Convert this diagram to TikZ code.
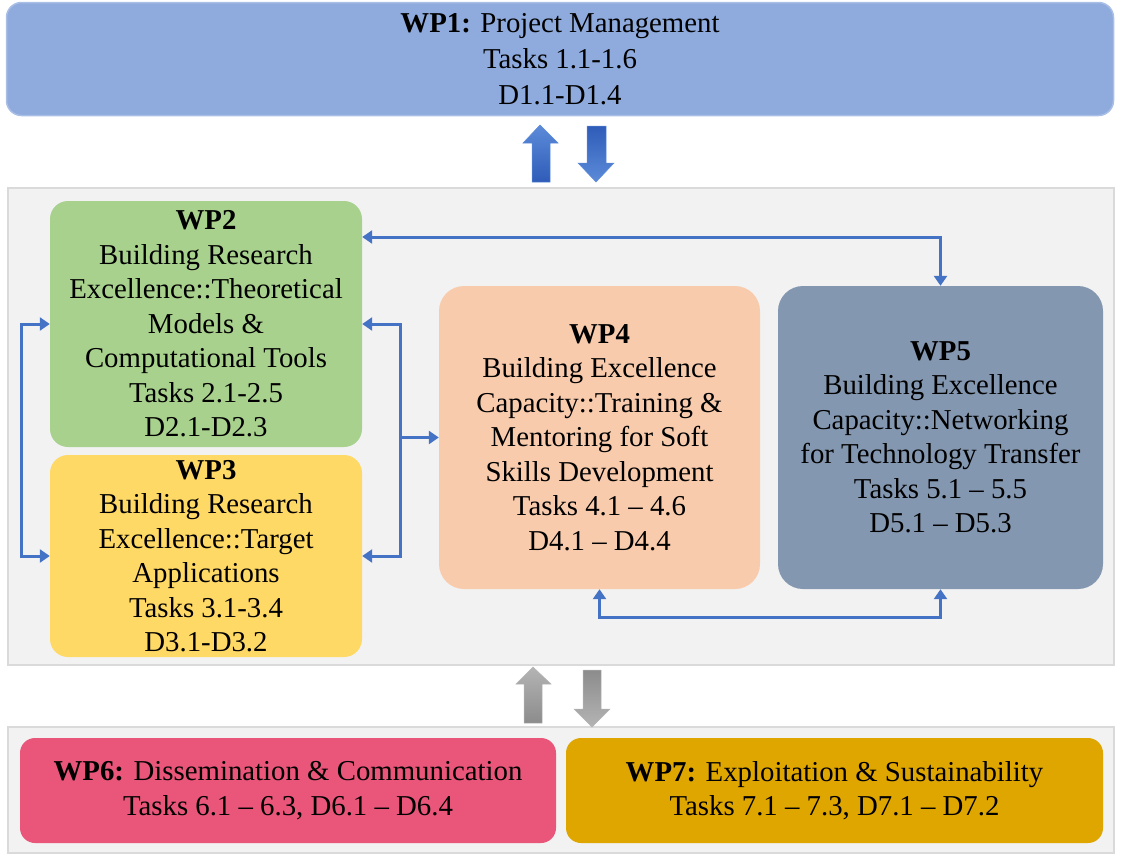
\documentclass[tikz,border=0pt]{standalone}
\usepackage{fontspec}
\setmainfont{Liberation Serif}
\usetikzlibrary{arrows.meta,calc}
\definecolor{wponefill}{HTML}{8FAADC}
\definecolor{wponeline}{HTML}{A9BFE6}
\definecolor{wptwofill}{HTML}{A9D18E}
\definecolor{wpthreefill}{HTML}{FFD966}
\definecolor{wpfourfill}{HTML}{F8CBAD}
\definecolor{wpfivefill}{HTML}{8497B0}
\definecolor{wpsixfill}{HTML}{E95679}
\definecolor{wpsevenfill}{HTML}{DFA600}
\definecolor{panelfill}{HTML}{F2F2F2}
\definecolor{panelline}{HTML}{DADADA}
\definecolor{linkblue}{HTML}{4472C4}
\definecolor{blocklight}{HTML}{5D8BD9}
\definecolor{blockdark}{HTML}{2E5CB8}
\definecolor{greylight}{HTML}{B4B4B4}
\definecolor{greydark}{HTML}{8C8C8C}

\begin{document}
\begin{tikzpicture}[x=1pt,y=-1pt,
    wpbox/.style={rectangle, align=center, inner sep=0pt,
      font=\fontsize{28.8}{34.5}\selectfont},
    panel/.style={rectangle, fill=panelfill, draw=panelline, line width=2pt, inner sep=0pt},
    link/.style={draw=linkblue, line width=3pt,
      {Triangle[length=10pt,width=13pt]}-{Triangle[length=10pt,width=13pt]}}]
		%%%%% START %%%%%
		\useasboundingbox (0,0) rectangle (1122,860);
		
		% panels
		\node[panel, minimum width=1106pt, minimum height=477pt] (midpanel) at (561,426.5) {};
		\node[panel, minimum width=1106pt, minimum height=126pt] (lowpanel) at (561,790) {};
		
		% work packages
		\node[wpbox, fill=wponefill, draw=wponeline, line width=1.5pt, rounded corners=15pt,
		  minimum width=1107pt, minimum height=113pt, font=\fontsize{28.8}{36}\selectfont] (wp1) at (560,59)
		  {\textbf{WP1:} Project Management\\Tasks 1.1-1.6\\D1.1-D1.4};
		\node[wpbox, fill=wptwofill, rounded corners=18pt, minimum width=312pt, minimum height=246pt] (wp2) at (206,324)
		  {\textbf{WP2}\\Building Research\\Excellence::Theoretical\\Models \&\\Computational Tools\\Tasks 2.1-2.5\\D2.1-D2.3};
		\node[wpbox, fill=wpthreefill, rounded corners=18pt, minimum width=312pt, minimum height=202pt] (wp3) at (206,556)
		  {\textbf{WP3}\\Building Research\\Excellence::Target\\Applications\\Tasks 3.1-3.4\\D3.1-D3.2};
		\node[wpbox, fill=wpfourfill, rounded corners=25pt, minimum width=321pt, minimum height=303pt] (wp4) at (599.5,437.5)
		  {\textbf{WP4}\\Building Excellence\\Capacity::Training \&\\Mentoring for Soft\\Skills Development\\Tasks 4.1 – 4.6\\D4.1 – D4.4};
		\node[wpbox, fill=wpfivefill, rounded corners=25pt, minimum width=325pt, minimum height=303pt] (wp5) at (940.5,437.5)
		  {\textbf{WP5}\\Building Excellence\\Capacity::Networking\\for Technology Transfer\\Tasks 5.1 – 5.5\\D5.1 – D5.3};
		\node[wpbox, fill=wpsixfill, rounded corners=15pt, minimum width=536pt, minimum height=105pt] (wp6) at (288,790.5)
		  {\textbf{WP6:} Dissemination \& Communication\\Tasks 6.1 – 6.3, D6.1 – D6.4};
		\node[wpbox, fill=wpsevenfill, rounded corners=15pt, minimum width=537pt, minimum height=105pt] (wp7) at (834.5,790.5)
		  {\textbf{WP7:} Exploitation \& Sustainability\\Tasks 7.1 – 7.3, D7.1 – D7.2};
		
		% block arrows between WP1 and the middle panel
		\shade[top color=blocklight, bottom color=blockdark, draw=blocklight, line width=0.5pt]
		  (523,143) -- (540,125) -- (558,143) -- (550,143) -- (550,182) -- (532,182) -- (532,143) -- cycle;
		\shade[top color=blockdark, bottom color=blocklight, draw=blocklight, line width=0.5pt]
		  (587,126) -- (606,126) -- (606,163) -- (614,163) -- (596,182) -- (578,163) -- (587,163) -- cycle;
		
		% block arrows between the middle panel and WP6/WP7
		\shade[top color=greylight, bottom color=greydark, draw=greylight, line width=0.5pt]
		  (516,684) -- (533,667) -- (551,684) -- (542,684) -- (542,723) -- (524,723) -- (524,684) -- cycle;
		\shade[top color=greydark, bottom color=greylight, draw=greylight, line width=0.5pt]
		  (583,670) -- (601,670) -- (601,709) -- (610,709) -- (592,727) -- (574,709) -- (583,709) -- cycle;
		
		% connectors
		\draw[link] (wp2.west) -- ++(-28,0) |- (wp3.west);
		\draw[link] (wp2.east) -- ++(38,0) |- (wp3.east);
		\draw[link, {Triangle[length=10pt,width=13pt]}-] (wp4.west) -- ++(-39,0);
		\draw[link] (wp2.east |- 0,237) -| (wp5.north);
		\draw[link] (wp4.south) -- ++(0,28) -| (wp5.south);
		
		%%%%% END %%%%%
\end{tikzpicture}
\end{document}
